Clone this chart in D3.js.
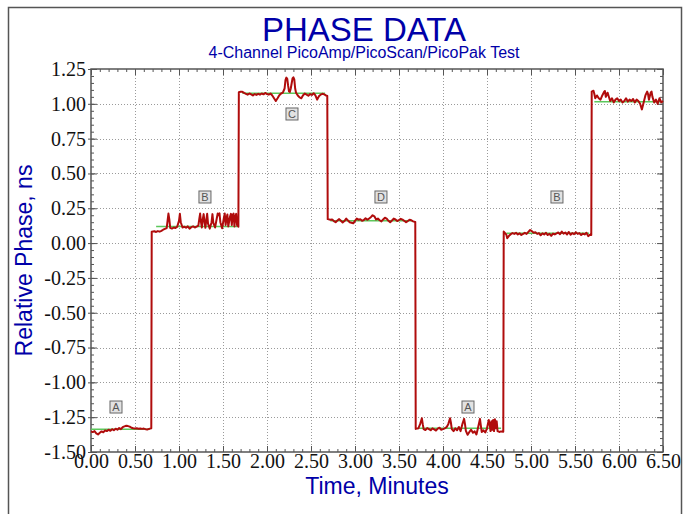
<!DOCTYPE html>
<html>
<head>
<meta charset="utf-8">
<script src="https://cdn.jsdelivr.net/npm/d3@7"></script>
<style>
  html, body { margin: 0; padding: 0; background: #fff; }
  svg { display: block; }
</style>
</head>
<body>
<svg id="chart" width="690" height="514"></svg>
<script>
// Axis ticks and labels
const xMajor = [0, 0.5, 1, 1.5, 2, 2.5, 3, 3.5, 4, 4.5, 5, 5.5, 6, 6.5];
const xTickLabels = ["0.00","0.50","1.00","1.50","2.00","2.50","3.00","3.50","4.00","4.50","5.00","5.50","6.00","6.50"];
const yMajor = [-1.5, -1.25, -1, -0.75, -0.5, -0.25, 0, 0.25, 0.5, 0.75, 1, 1.25];
const yTickLabels = ["-1.50","-1.25","-1.00","-0.75","-0.50","-0.25","0.00","0.25","0.50","0.75","1.00","1.25"];

// Measured phase trace: [minutes, ns]
const phaseTrace = [
  [0.00,-1.352],[0.02,-1.357],[0.04,-1.350],[0.06,-1.366],[0.08,-1.374],[0.10,-1.362],[0.12,-1.352],[0.14,-1.358],
  [0.16,-1.345],[0.18,-1.350],[0.20,-1.340],[0.22,-1.348],[0.24,-1.336],[0.26,-1.344],[0.28,-1.333],[0.30,-1.340],
  [0.32,-1.328],[0.34,-1.336],[0.36,-1.322],[0.38,-1.316],[0.40,-1.312],[0.42,-1.314],[0.44,-1.318],[0.46,-1.326],
  [0.48,-1.330],[0.50,-1.332],[0.52,-1.330],[0.54,-1.333],[0.56,-1.331],[0.58,-1.334],[0.60,-1.332],[0.62,-1.336],
  [0.64,-1.338],[0.66,-1.334],[0.685,-1.330],
  [0.69,0.082],[0.72,0.085],[0.74,0.080],[0.76,0.086],[0.78,0.082],[0.80,0.088],[0.82,0.096],[0.84,0.102],[0.86,0.108],
  [0.87,0.160],[0.88,0.212],[0.89,0.170],[0.90,0.110],[0.92,0.104],[0.94,0.112],[0.96,0.108],[0.98,0.118],[1.00,0.160],
  [1.01,0.210],[1.02,0.150],[1.04,0.112],[1.06,0.118],[1.08,0.110],[1.10,0.120],[1.12,0.104],[1.14,0.114],[1.16,0.120],
  [1.18,0.112],[1.20,0.118],[1.22,0.126],[1.23,0.170],[1.24,0.212],[1.25,0.150],[1.26,0.112],[1.27,0.170],[1.28,0.208],
  [1.29,0.150],[1.30,0.110],[1.31,0.165],[1.32,0.210],[1.33,0.140],[1.35,0.104],[1.37,0.150],[1.38,0.208],[1.39,0.145],
  [1.41,0.112],[1.43,0.180],[1.44,0.212],[1.45,0.200],[1.46,0.214],[1.47,0.150],[1.49,0.106],[1.51,0.180],[1.52,0.212],
  [1.53,0.130],[1.54,0.180],[1.55,0.205],[1.56,0.120],[1.58,0.190],[1.59,0.210],[1.60,0.130],[1.61,0.200],[1.62,0.212],
  [1.63,0.120],[1.64,0.190],[1.65,0.210],[1.66,0.128],[1.675,0.118],
  [1.68,1.083],[1.70,1.086],[1.72,1.086],[1.74,1.078],[1.76,1.072],[1.78,1.066],[1.80,1.074],[1.82,1.068],[1.84,1.060],
  [1.86,1.070],[1.88,1.064],[1.90,1.072],[1.92,1.066],[1.94,1.074],[1.96,1.068],[1.98,1.078],[2.00,1.070],[2.02,1.066],
  [2.04,1.074],[2.06,1.060],[2.08,1.040],[2.10,1.020],[2.12,1.040],[2.14,1.062],[2.16,1.074],[2.18,1.080],[2.20,1.110],
  [2.21,1.170],[2.22,1.188],[2.23,1.180],[2.24,1.130],[2.25,1.090],[2.26,1.086],[2.27,1.110],[2.29,1.182],[2.30,1.190],
  [2.31,1.175],[2.32,1.110],[2.33,1.080],[2.35,1.060],[2.37,1.046],[2.39,1.040],[2.41,1.062],[2.43,1.074],[2.45,1.066],
  [2.47,1.058],[2.49,1.070],[2.51,1.064],[2.53,1.076],[2.55,1.060],[2.57,1.030],[2.59,1.054],[2.61,1.066],[2.63,1.072],
  [2.65,1.068],[2.67,1.060],[2.685,1.056],
  [2.69,0.172],[2.72,0.168],[2.74,0.170],[2.76,0.158],[2.78,0.150],[2.80,0.162],[2.82,0.172],[2.84,0.160],[2.86,0.148],
  [2.88,0.158],[2.90,0.176],[2.92,0.162],[2.94,0.150],[2.96,0.146],[2.98,0.142],[3.00,0.160],[3.02,0.176],[3.04,0.168],
  [3.06,0.172],[3.08,0.160],[3.10,0.166],[3.12,0.178],[3.14,0.168],[3.16,0.176],[3.18,0.186],[3.20,0.200],[3.22,0.192],
  [3.24,0.170],[3.26,0.176],[3.28,0.164],[3.30,0.156],[3.32,0.170],[3.34,0.182],[3.36,0.176],[3.38,0.160],[3.40,0.150],
  [3.42,0.162],[3.44,0.176],[3.46,0.170],[3.48,0.158],[3.50,0.166],[3.52,0.174],[3.54,0.168],[3.56,0.160],[3.58,0.150],
  [3.60,0.158],[3.62,0.168],[3.64,0.164],[3.66,0.156],[3.685,0.152],
  [3.69,-1.334],[3.72,-1.330],[3.74,-1.300],[3.76,-1.258],[3.77,-1.300],[3.78,-1.336],[3.80,-1.342],[3.82,-1.328],
  [3.84,-1.336],[3.86,-1.344],[3.88,-1.330],[3.90,-1.338],[3.92,-1.346],[3.94,-1.332],[3.96,-1.326],[3.98,-1.340],
  [4.00,-1.336],[4.02,-1.330],[4.04,-1.322],[4.06,-1.300],[4.08,-1.258],[4.09,-1.290],[4.10,-1.336],[4.12,-1.350],
  [4.14,-1.330],[4.16,-1.344],[4.18,-1.320],[4.20,-1.350],[4.22,-1.300],[4.24,-1.262],[4.25,-1.300],[4.26,-1.348],
  [4.28,-1.376],[4.30,-1.356],[4.32,-1.340],[4.34,-1.362],[4.36,-1.352],[4.38,-1.374],[4.40,-1.320],[4.42,-1.262],
  [4.43,-1.310],[4.44,-1.356],[4.46,-1.344],[4.48,-1.360],[4.50,-1.330],[4.52,-1.270],[4.53,-1.300],[4.54,-1.350],
  [4.55,-1.280],[4.56,-1.340],[4.57,-1.270],[4.58,-1.350],[4.59,-1.265],[4.60,-1.330],[4.61,-1.280],[4.62,-1.350],
  [4.64,-1.356],[4.66,-1.352],[4.685,-1.354],
  [4.69,0.083],[4.72,0.060],[4.73,0.035],[4.75,0.052],[4.77,0.064],[4.79,0.072],[4.81,0.066],[4.83,0.074],[4.85,0.062],
  [4.87,0.070],[4.89,0.058],[4.91,0.066],[4.93,0.074],[4.95,0.066],[4.97,0.080],[4.99,0.094],[5.01,0.086],[5.03,0.074],
  [5.05,0.078],[5.07,0.066],[5.09,0.072],[5.11,0.056],[5.13,0.070],[5.15,0.062],[5.17,0.074],[5.19,0.058],[5.21,0.066],
  [5.23,0.052],[5.25,0.068],[5.27,0.062],[5.29,0.070],[5.31,0.076],[5.33,0.064],[5.35,0.082],[5.37,0.068],[5.39,0.076],
  [5.41,0.062],[5.43,0.080],[5.45,0.060],[5.47,0.072],[5.49,0.064],[5.51,0.078],[5.53,0.066],[5.55,0.072],[5.57,0.058],
  [5.59,0.068],[5.61,0.062],[5.63,0.074],[5.65,0.050],[5.67,0.060],[5.685,0.058],
  [5.69,1.088],[5.71,1.094],[5.72,1.070],[5.73,1.040],[5.75,1.060],[5.77,1.040],[5.79,1.030],[5.81,1.060],[5.83,1.085],
  [5.84,1.092],[5.85,1.050],[5.87,1.080],[5.88,1.060],[5.90,1.020],[5.92,1.040],[5.94,1.010],[5.96,1.030],[5.98,1.040],
  [6.00,1.020],[6.02,1.030],[6.04,1.010],[6.06,1.020],[6.08,1.040],[6.10,1.016],[6.12,1.030],[6.14,1.020],[6.16,1.035],
  [6.18,1.010],[6.20,1.030],[6.22,1.020],[6.24,1.000],[6.26,0.960],[6.28,1.010],[6.30,1.060],[6.32,1.088],[6.33,1.070],
  [6.34,1.030],[6.36,1.080],[6.37,1.088],[6.38,1.050],[6.40,1.010],[6.42,1.030],[6.44,1.000],[6.46,1.040],[6.48,1.010],
  [6.50,1.020]
];

// Mean phase per channel setting (green reference levels)
const levelStart = [0.00, 0.74, 1.72, 2.72, 3.72, 4.72, 5.72];
const levelEnd   = [0.67, 1.67, 2.66, 3.66, 4.66, 5.66, 6.50];
const levelValue = [-1.337, 0.120, 1.075, 0.161, -1.330, 0.070, 1.015];

// Channel markers
const markerText = ["A", "B", "C", "D", "A", "B"];
const markerTime = [0.284, 1.295, 2.284, 3.295, 4.284, 5.295];
const markerPhase = [-1.177, 0.331, 0.927, 0.331, -1.177, 0.331];

const svg = d3.select("#chart");
const plot = { left: 91, right: 663, top: 69, bottom: 452 };

const x = d3.scaleLinear().domain([0, 6.5]).range([plot.left, plot.right]);
const y = d3.scaleLinear().domain([-1.5, 1.25]).range([plot.bottom, plot.top]);

// outer frame
svg.append("rect")
  .attr("x", 8.5).attr("y", 7.5).attr("width", 673).attr("height", 520)
  .attr("fill", "#fff").attr("stroke", "#555").attr("stroke-width", 1.5);

// titles
svg.append("text")
  .attr("x", 364).attr("y", 41).attr("text-anchor", "middle")
  .attr("font-family", "Liberation Sans, Arial, sans-serif").attr("font-size", 33)
  .attr("fill", "#0000a8").text("PHASE DATA");
svg.append("text")
  .attr("x", 364).attr("y", 58).attr("text-anchor", "middle")
  .attr("font-family", "Liberation Sans, Arial, sans-serif").attr("font-size", 16)
  .attr("fill", "#0000a8").text("4-Channel PicoAmp/PicoScan/PicoPak Test");

// grid
const grid = svg.append("g").attr("stroke", "#9a9a9a").attr("stroke-width", 1)
  .attr("stroke-dasharray", "1,2");
grid.selectAll("line.v").data(xMajor.slice(1, -1)).join("line")
  .attr("x1", d => Math.round(x(d)) + 0.5).attr("x2", d => Math.round(x(d)) + 0.5)
  .attr("y1", plot.top).attr("y2", plot.bottom);
grid.selectAll("line.h").data(yMajor.slice(1, -1)).join("line")
  .attr("y1", d => Math.round(y(d)) + 0.5).attr("y2", d => Math.round(y(d)) + 0.5)
  .attr("x1", plot.left).attr("x2", plot.right);

// minor / major inward ticks on all four sides
const xMinor = d3.range(0, 6.5001, 0.1);
const yMinor = d3.range(-1.5, 1.2501, 0.05);
function tickAxis(axisFn, scale, values, size, transform) {
  svg.append("g").attr("transform", transform)
    .call(axisFn(scale).tickValues(values).tickSize(size).tickSizeOuter(0).tickFormat(""))
    .call(g => g.select(".domain").remove())
    .call(g => g.selectAll("line").attr("stroke", "#555"));
}
tickAxis(d3.axisBottom, x, xMinor, -3, `translate(0,${plot.bottom})`);
tickAxis(d3.axisBottom, x, xMajor, -6, `translate(0,${plot.bottom})`);
tickAxis(d3.axisTop, x, xMinor, -3, `translate(0,${plot.top})`);
tickAxis(d3.axisTop, x, xMajor, -6, `translate(0,${plot.top})`);
tickAxis(d3.axisLeft, y, yMinor, -3, `translate(${plot.left},0)`);
tickAxis(d3.axisLeft, y, yMajor, -6, `translate(${plot.left},0)`);
tickAxis(d3.axisRight, y, yMinor, -3, `translate(${plot.right},0)`);
tickAxis(d3.axisRight, y, yMajor, -6, `translate(${plot.right},0)`);

// labelled axes
const yAxis = svg.append("g").attr("transform", `translate(${plot.left},0)`)
  .call(d3.axisLeft(y).tickValues(yMajor).tickSize(3).tickPadding(2)
    .tickFormat((d, i) => yTickLabels[i]));
yAxis.select(".domain").remove();
yAxis.selectAll("line").attr("stroke", "#555");
yAxis.selectAll("text").attr("font-family", "Liberation Serif, Times New Roman, serif")
  .attr("font-size", 20).attr("fill", "#111");

const xAxis = svg.append("g").attr("transform", `translate(0,${plot.bottom})`)
  .call(d3.axisBottom(x).tickValues(xMajor).tickSize(0).tickPadding(2)
    .tickFormat((d, i) => xTickLabels[i]));
xAxis.select(".domain").remove();
xAxis.selectAll("text").attr("font-family", "Liberation Serif, Times New Roman, serif")
  .attr("font-size", 20).attr("fill", "#111");

// plot frame
svg.append("rect")
  .attr("x", plot.left).attr("y", plot.top)
  .attr("width", plot.right - plot.left).attr("height", plot.bottom - plot.top)
  .attr("fill", "none").attr("stroke", "#555").attr("stroke-width", 1.5);

// axis titles
svg.append("text")
  .attr("x", (plot.left + plot.right) / 2).attr("y", 494).attr("text-anchor", "middle")
  .attr("font-family", "Liberation Sans, Arial, sans-serif").attr("font-size", 23)
  .attr("fill", "#0000a8").text("Time, Minutes");
svg.append("text")
  .attr("transform", `translate(32,${(plot.top + plot.bottom) / 2}) rotate(-90)`)
  .attr("text-anchor", "middle")
  .attr("font-family", "Liberation Sans, Arial, sans-serif").attr("font-size", 23)
  .attr("fill", "#0000a8").text("Relative Phase, ns");

// reference levels
svg.append("g").selectAll("line").data(levelValue).join("line")
  .attr("x1", (d, i) => x(levelStart[i])).attr("x2", (d, i) => x(levelEnd[i]))
  .attr("y1", d => y(d)).attr("y2", d => y(d))
  .attr("stroke", "#5cc85c").attr("stroke-width", 1.5);

// phase trace
svg.append("path")
  .datum(phaseTrace)
  .attr("d", d3.line().x(d => x(d[0])).y(d => y(d[1])))
  .attr("fill", "none").attr("stroke", "#b00c0c").attr("stroke-width", 2)
  .attr("stroke-linejoin", "round");

// channel markers
const markers = svg.append("g").selectAll("g").data(markerText).join("g")
  .attr("transform", (d, i) => `translate(${x(markerTime[i])},${y(markerPhase[i])})`);
markers.append("rect")
  .attr("x", -6).attr("y", -6).attr("width", 12).attr("height", 12)
  .attr("fill", "#e2e2e2").attr("stroke", "#666").attr("stroke-width", 1);
markers.append("text")
  .attr("text-anchor", "middle").attr("dy", "0.36em")
  .attr("font-family", "Liberation Sans, Arial, sans-serif").attr("font-size", 11)
  .attr("fill", "#555").text(d => d);
</script>
</body>
</html>
